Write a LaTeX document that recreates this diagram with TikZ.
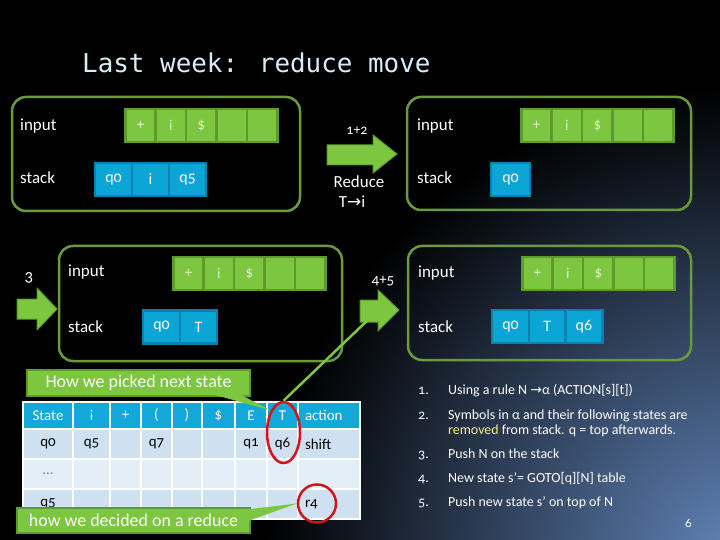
\documentclass[tikz,border=0pt]{standalone}
\usepackage{fontspec}
\setmainfont{Carlito}[Numbers=OldStyle]
\newfontfamily\titlefont{DejaVu Sans Mono}
\newfontfamily\symfont{DejaVu Sans}
\usetikzlibrary{positioning,shapes.geometric}

\definecolor{panelgreen}{HTML}{6B9A3C}
\definecolor{cellgreen}{HTML}{7DC63F}
\definecolor{cellrim}{HTML}{5E9A2E}
\definecolor{cellblue}{HTML}{0BA5D6}
\definecolor{bluerim}{HTML}{0A82AE}
\definecolor{headblue}{HTML}{14A7D9}
\definecolor{rowdark}{HTML}{CFE1F0}
\definecolor{rowlight}{HTML}{E4EEF7}
\definecolor{titleblue}{HTML}{D8EEF6}
\definecolor{ringred}{HTML}{D2141C}
\definecolor{markyellow}{HTML}{F0F08A}
\definecolor{bgblue}{HTML}{6488BE}

\tikzstyle{panel} = [draw=panelgreen, line width=2.5bp, rounded corners=14bp]
\tikzstyle{lbl} = [anchor=base west, text=white, inner sep=0pt, font=\fontsize{17}{20}\selectfont]
\tikzstyle{incell} = [rectangle, draw=cellrim, fill=cellgreen, line width=2.5bp, outer sep=0pt,
    inner sep=0pt, minimum width=30.4bp, minimum height=33bp, text=white!80!cellgreen,
    font=\fontsize{15}{18}\selectfont]
\tikzstyle{stcell} = [rectangle, draw=bluerim, fill=cellblue, line width=2.5bp, outer sep=0pt,
    inner sep=0pt, minimum height=33bp, text=white, font=\fontsize{16}{18}\selectfont]
\tikzstyle{bigarrow} = [draw=cellrim, fill=cellgreen, line width=1bp]
\tikzstyle{thead} = [rectangle, draw=white, fill=headblue, line width=2bp, outer sep=0pt,
    minimum height=27bp, text=white, font=\fontsize{15}{18}\selectfont]
\tikzstyle{tcell} = [rectangle, draw=white, line width=2bp, outer sep=0pt,
    minimum height=30bp, text=black, font=\fontsize{15}{18}\selectfont]
\tikzstyle{ring} = [ellipse, draw=ringred, line width=2.5bp, inner sep=0pt]
\tikzstyle{callout} = [rectangle, draw=cellrim, fill=cellgreen, line width=1.5bp, inner sep=0pt,
    text=white, font=\fontsize{18}{20}\selectfont]
\tikzstyle{item} = [anchor=base west, text=white, inner sep=0pt, font=\fontsize{14}{16}\selectfont]

\begin{document}
\begin{tikzpicture}[x=1bp, y=-1bp]
  \useasboundingbox (0,0) rectangle (720,540);
  \fill[black] (0,0) rectangle (720,540);
  \begin{scope}
    \clip (0,0) rectangle (720,540);
    \shade[inner color=bgblue, outer color=black] (745,565) circle[radius=480bp];
  \end{scope}

  \node[anchor=base west, inner sep=0pt, text=titleblue, font=\titlefont\fontsize{26}{30}\selectfont]
    (title) at (82,73) {Last week: reduce move};

  % before the reduce
  \draw[panel] (12,97) rectangle (300,211);
  \node[lbl] (inA) at (20,131) {input};
  \node[lbl] (stA) at (20,184) {stack};
  \foreach \t [count=\i from 0] in {+,i,\$,{},{}}
    \node[incell] (inA\i) at (140.5+30.4*\i,125.5) {\t};
  \foreach \t [count=\i from 0] in {q0,i,q5}
    \node[stcell, minimum width=37bp] (stA\i) at (113.5+37*\i,179.5) {\t};

  % steps 1+2
  \draw[bigarrow] (327,145) -- (373,145) -- (373,135) -- (397,154) -- (373,173) -- (373,165) -- (327,165) -- cycle;
  \node[lbl, anchor=base, font=\fontsize{14}{16}\selectfont] (stepA) at (357,135) {1+2};
  \node[lbl, anchor=base] (ruleA) at (359,188) {Reduce};
  \node[lbl, anchor=base] (ruleB) at (352,208) {T{\symfont →}i};

  % after popping
  \draw[panel] (407,97) rectangle (691,210);
  \node[lbl] (inB) at (417,131) {input};
  \node[lbl] (stB) at (417,184) {stack};
  \foreach \t [count=\i from 0] in {+,i,\$,{},{}}
    \node[incell] (inB\i) at (536.5+30.4*\i,125.5) {\t};
  \node[stcell, minimum width=39bp] (stB0) at (510.5,179.5) {q0};

  % step 3: push T
  \draw[bigarrow] (17,299) -- (37,299) -- (37,288) -- (57,309) -- (37,330) -- (37,319) -- (17,319) -- cycle;
  \node[lbl, anchor=base] (stepB) at (29,282) {3};
  \draw[panel] (59,246) rectangle (342,361);
  \node[lbl] (inC) at (68,277) {input};
  \node[lbl] (stC) at (68,332) {stack};
  \foreach \t [count=\i from 0] in {+,i,\$,{},{}}
    \node[incell] (inC\i) at (188.5+30.4*\i,273.5) {\t};
  \foreach \t [count=\i from 0] in {q0,T}
    \node[stcell, minimum width=37bp] (stC\i) at (161.5+37*\i,327) {\t};

  % steps 4+5: goto
  \draw[bigarrow] (360,300) -- (378,300) -- (378,290) -- (399,310) -- (378,331) -- (378,322) -- (360,322) -- cycle;
  \coordinate (stepTail) at (372,316);
  \node[lbl, anchor=base, font=\fontsize{15}{17}\selectfont] (stepC) at (383,285) {4+5};
  \draw[panel] (408,246) rectangle (691,360);
  \node[lbl] (inD) at (418,278) {input};
  \node[lbl] (stD) at (418,332) {stack};
  \foreach \t [count=\i from 0] in {+,i,\$,{},{}}
    \node[incell] (inD\i) at (537.5+30.4*\i,273.5) {\t};
  \foreach \t [count=\i from 0] in {q0,T,q6}
    \node[stcell, minimum width=36.7bp] (stD\i) at (510.5+36.7*\i,326.5) {\t};

  % parse table
  \foreach \l/\r/\h/\ra/\rb/\rc [count=\c] in {
      23/73/State/q0/{\textcolor{gray}{…}}/q5,
      73/110/i/q5/{}/{},
      110/141/+/{}/{}/{},
      141/172/{(}/q7/{}/{},
      172/202/{)}/{}/{}/{},
      202/235/\$/{}/{}/{},
      235/267/E/q1/{}/{},
      267/298/T/q6/{}/{}}{
    \node[thead, minimum width={(\r-\l)*1bp}] (head\c) at ({(\l+\r)/2},415.5) {\h};
    \node[tcell, fill=rowdark, minimum width={(\r-\l)*1bp}] (rowA\c) at ({(\l+\r)/2},444) {\ra};
    \node[tcell, fill=rowlight, minimum width={(\r-\l)*1bp}] (rowB\c) at ({(\l+\r)/2},474) {\rb};
    \node[tcell, fill=rowdark, minimum width={(\r-\l)*1bp}] (rowC\c) at ({(\l+\r)/2},504) {\rc};
  }
  \node[thead, minimum width=62bp, text width=48bp, align=left] (head9) at (329,415.5) {action};
  \node[tcell, fill=rowdark, minimum width=62bp, text width=48bp, align=left] (rowA9) at (329,444) {shift};
  \node[tcell, fill=rowlight, minimum width=62bp, text width=48bp, align=left] (rowB9) at (329,474) {};
  \node[tcell, fill=rowdark, minimum width=62bp, text width=48bp, align=left] (rowC9) at (329,504) {r4};

  \node[ring, minimum width=33bp, minimum height=61bp] (ringT) at (283.5,432.5) {};
  \node[ring, circle, minimum size=38bp] (ringR) at (317,503.5) {};

  % callouts
  \node[callout, minimum width=223bp, minimum height=26bp] (pickNote) at (138.5,383) {How we picked next state};
  \fill[cellgreen] ([xshift=-40bp,yshift=3bp]pickNote.south east) -- (ringT.120)
    -- ([xshift=-12bp,yshift=3bp]pickNote.south east) -- cycle;
  \node[callout, minimum width=233bp, minimum height=25bp] (reduceNote) at (133.5,520.5) {how we decided on a reduce};
  \fill[cellgreen] ([xshift=-2bp,yshift=-2bp]reduceNote.north east) -- (ringR.west)
    -- ([xshift=-2bp,yshift=13bp]reduceNote.south east) -- cycle;

  \draw[cellgreen, line width=2.5bp] (ringT.north) -- (stepTail);

  % how a reduce works
  \node[item] (n1) at (418,394) {1.};
  \node[item] (t1) at (448,394) {Using a rule N {\symfont →}α (ACTION[s][t])};
  \node[item] (n2) at (418,419) {2.};
  \node[item] (t2) at (448,419) {Symbols in α and their following states are};
  \node[item] (t2b) at (448,434) {\textcolor{markyellow}{removed} from stack. q = top afterwards.};
  \node[item] (n3) at (418,458) {3.};
  \node[item] (t3) at (448,458) {Push N on the stack};
  \node[item] (n4) at (418,482) {4.};
  \node[item] (t4) at (448,482) {New state s'= GOTO[q][N] table};
  \node[item] (n5) at (418,506) {5.};
  \node[item] (t5) at (448,506) {Push new state s' on top of N};
  \node[item, font=\fontsize{13}{15}\selectfont] (pageNo) at (685,527) {6};
\end{tikzpicture}
\end{document}
